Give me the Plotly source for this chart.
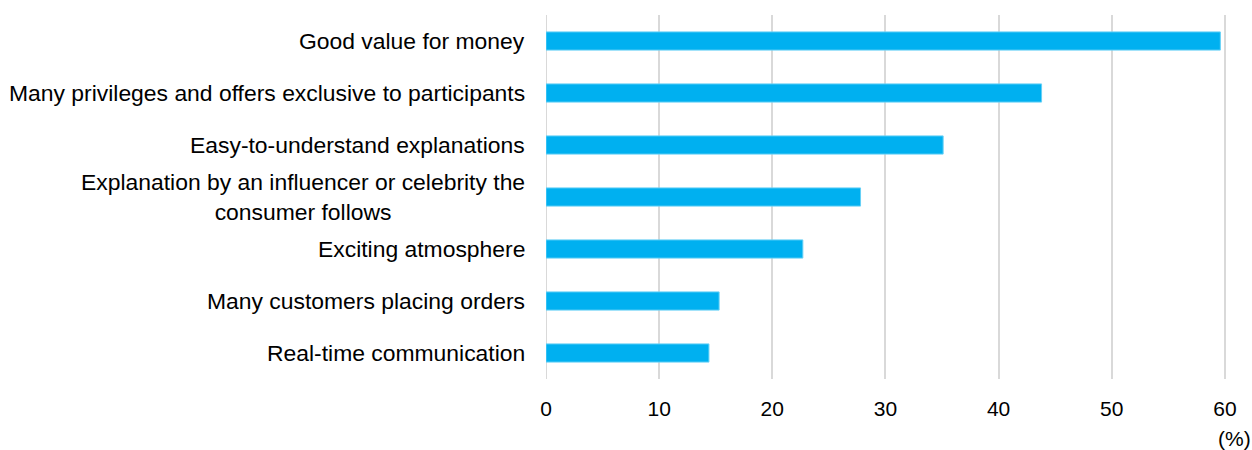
import plotly.graph_objects as go

categories = [
    "Good value for money",
    "Many privileges and offers exclusive to participants",
    "Easy-to-understand explanations",
    "Explanation by an influencer or celebrity the<br>consumer follows",
    "Exciting atmosphere",
    "Many customers placing orders",
    "Real-time communication",
]
values = [59.6, 43.8, 35.1, 27.8, 22.7, 15.3, 14.4]
x_ticks = [0, 10, 20, 30, 40, 50, 60]
unit_label = "(%)"

FONT = "Liberation Sans, Arial, sans-serif"

fig = go.Figure(
    go.Bar(
        x=values,
        y=categories,
        orientation="h",
        marker=dict(color="#00b0f0", line=dict(color="#66d0f6", width=1)),
        hoverinfo="x+y",
    )
)

annotations = []
for c in categories:
    annotations.append(dict(
        x=0, xref="paper", xanchor="right", xshift=-19,
        y=c, yref="y", yanchor="middle",
        text=c, showarrow=False, align="center",
        font=dict(family=FONT, size=22.9, color="#000000"),
    ))
annotations.append(dict(
    x=1, xref="paper", xanchor="center", xshift=8,
    y=0, yref="paper", yanchor="middle", yshift=-59,
    text=unit_label, showarrow=False,
    font=dict(family=FONT, size=21, color="#000000"),
))

fig.update_layout(
    width=1252, height=450,
    margin=dict(l=546, r=26, t=15, b=71),
    plot_bgcolor="white", paper_bgcolor="white",
    bargap=0.65,
    showlegend=False,
    annotations=annotations,
    font=dict(family=FONT, size=21, color="#000000"),
)
fig.update_xaxes(
    range=[0, 60.1], tickvals=x_ticks, ticktext=[str(t) for t in x_ticks],
    showgrid=True, gridcolor="#d9d9d9", gridwidth=2,
    zeroline=False, showline=False, ticks="",
    ticklabelstandoff=15,
    tickfont=dict(family=FONT, size=21, color="#000000"),
)
fig.update_yaxes(
    autorange="reversed", showticklabels=False, showgrid=False,
    zeroline=False, showline=False, ticks="",
)
fig.add_shape(type="line", xref="x", yref="paper", x0=0, x1=0, y0=0, y1=1,
              line=dict(color="#d9d9d9", width=2), layer="below")

fig.write_html("out.html")
